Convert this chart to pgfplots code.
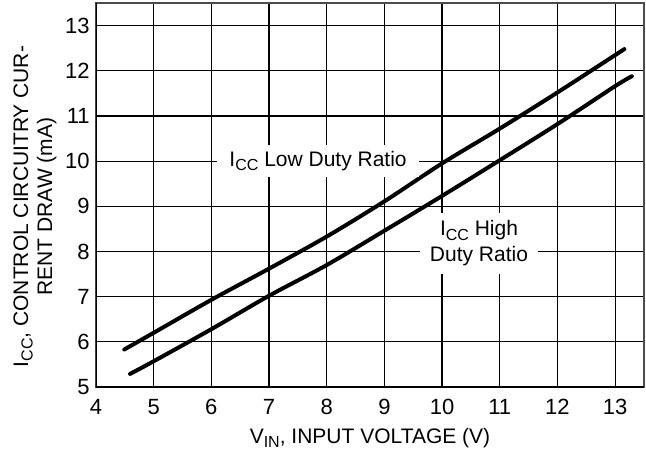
\documentclass[border=0pt]{standalone}
\usepackage{pgfplots}
\pgfplotsset{compat=1.18}
\usepackage{fontspec}
\setmainfont{Liberation Sans}
\newcommand\sub[1]{\raisebox{-0.4ex}{\fontsize{8}{9}\selectfont #1}}

\begin{document}
\begin{tikzpicture}
\begin{axis}[
    at={(0,0)}, anchor=south west,
    scale only axis, width=274pt, height=192pt,
    xmin=4, xmax=13.5, ymin=5, ymax=13.5,
    xtick={4,...,13}, ytick={5,...,13},
    grid=major,
    grid style={black, line width=0.6pt},
    axis line style={black!70, line width=0.7pt},
    major tick length=0pt,
    /pgf/number format/assume math mode=true,
    tick label style={font=\fontsize{11}{13}\selectfont},
    xticklabel style={anchor=center, yshift=-10pt},
    yticklabel style={anchor=east, inner sep=0pt, xshift=-3pt},
    xlabel={V\sub{IN}, INPUT VOLTAGE (V)},
    xlabel style={at={(axis description cs:0.5,0)}, anchor=center, yshift=-25.5pt,
        font=\fontsize{10.5}{12}\selectfont},
    ylabel={I\sub{CC}, CONTROL CIRCUITRY CUR-\\RENT DRAW (mA)},
    ylabel style={at={(axis description cs:0,0.47)}, anchor=center, yshift=30.5pt,
        align=center, font=\fontsize{10.5}{12}\selectfont},
]
% low duty ratio
\addplot[black, line width=2pt, line cap=round, smooth] coordinates {
    (4.49,5.83) (5,6.20) (6,6.93) (7,7.62) (8,8.33) (9,9.11)
    (10,9.95) (11,10.72) (12,11.52) (13.16,12.48)};
% high duty ratio
\addplot[black, line width=2pt, line cap=round, smooth] coordinates {
    (4.59,5.29) (5,5.57) (6,6.28) (7,7.02) (8,7.70) (9,8.46)
    (10,9.23) (11,10.02) (12,10.82) (13,11.66) (13.29,11.88)};

\draw[black, line width=1.5pt] (rel axis cs:0,1) -- (rel axis cs:0,0) -- (rel axis cs:1,0);

\node[fill=white, inner xsep=6pt, inner ysep=3pt, font=\fontsize{10.5}{12}\selectfont]
    at (axis cs:7.85,10) {I\sub{CC} Low Duty Ratio};
\node[fill=white, align=center, inner xsep=5pt, inner ysep=4pt, font=\fontsize{10.5}{13}\selectfont]
    at (axis cs:10.64,8.18) {I\sub{CC} High\\Duty Ratio};
\end{axis}
\pgfresetboundingbox
\path[use as bounding box] (-48pt,-34pt) rectangle (275pt,193.5pt);
\end{tikzpicture}
\end{document}
